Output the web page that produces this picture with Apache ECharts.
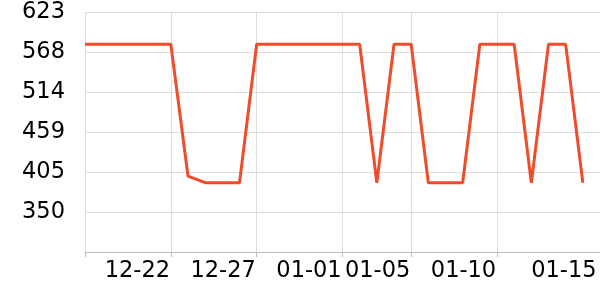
<!DOCTYPE html>
<html>
<head>
<meta charset="utf-8">
<script src="https://cdn.jsdelivr.net/npm/echarts@6/dist/echarts.min.js"></script>
<style>html,body{margin:0;padding:0;background:#fff}#c{width:600px;height:300px}</style>
</head>
<body>
<div id="c"></div>
<script>
const categories = ['12-17','12-18','12-19','12-20','12-21','12-22','12-23','12-24','12-25','12-26','12-27','12-28','12-29','12-30','12-31','01-01','01-02','01-03','01-04','01-05','01-06','01-07','01-08','01-09','01-10','01-11','01-12','01-13','01-14','01-15','01-16'];
const values = [579,579,579,579,579,579,399,390,390,390,579,579,579,579,579,579,579,390,579,579,390,390,390,579,579,579,390,579,579,390];
const labelDates = ['12-22','12-27','01-01','01-05','01-10','01-15'];
const gridDates = ['12-17','12-22','12-27','01-01','01-05','01-10'];
const yMin = 295.4, yMax = 623, yStep = 54.6;

const chart = echarts.init(document.getElementById('c'), null, {renderer:'canvas'});
chart.setOption({
  animation: false,
  grid: {left: 85, right: -1, top: 12, bottom: 48, containLabel: false},
  xAxis: {
    type: 'category',
    data: categories,
    boundaryGap: false,
    axisLine: {lineStyle: {color: '#bbbbbb'}},
    axisTick: {interval: (i, v) => gridDates.includes(v), lineStyle: {color: '#bbbbbb'}},
    splitLine: {show: true, interval: (i, v) => gridDates.includes(v), lineStyle: {color: '#dddddd'}},
    axisLabel: {
      interval: (i, v) => labelDates.includes(v),
      fontFamily: 'DejaVu Sans', fontSize: 22.5, color: '#000',
      align: 'center', margin: 8,
      formatter: v => v === '01-15' ? '{b|' + v + '}' : '{a|' + v + '}',
      rich: {
        a: {fontFamily: 'DejaVu Sans', fontSize: 22.5, color: '#000', padding: [0, 67, 0, 0]},
        b: {fontFamily: 'DejaVu Sans', fontSize: 22.5, color: '#000', padding: [0, 38, 0, 0]}
      }
    }
  },
  yAxis: {
    type: 'value',
    min: yMin, max: yMax, interval: yStep,
    axisLine: {show: false},
    axisTick: {show: false},
    splitLine: {lineStyle: {color: '#dddddd'}},
    axisLabel: {
      showMinLabel: false,
      fontFamily: 'DejaVu Sans', fontSize: 22.5, color: '#000', margin: 20,
      formatter: v => String(Math.round(v))
    }
  },
  series: [{
    type: 'line',
    data: values,
    showSymbol: false,
    symbol: 'none',
    lineStyle: {color: '#f04c2c', width: 3},
    itemStyle: {color: '#f04c2c'}
  }]
});
</script>
</body>
</html>
